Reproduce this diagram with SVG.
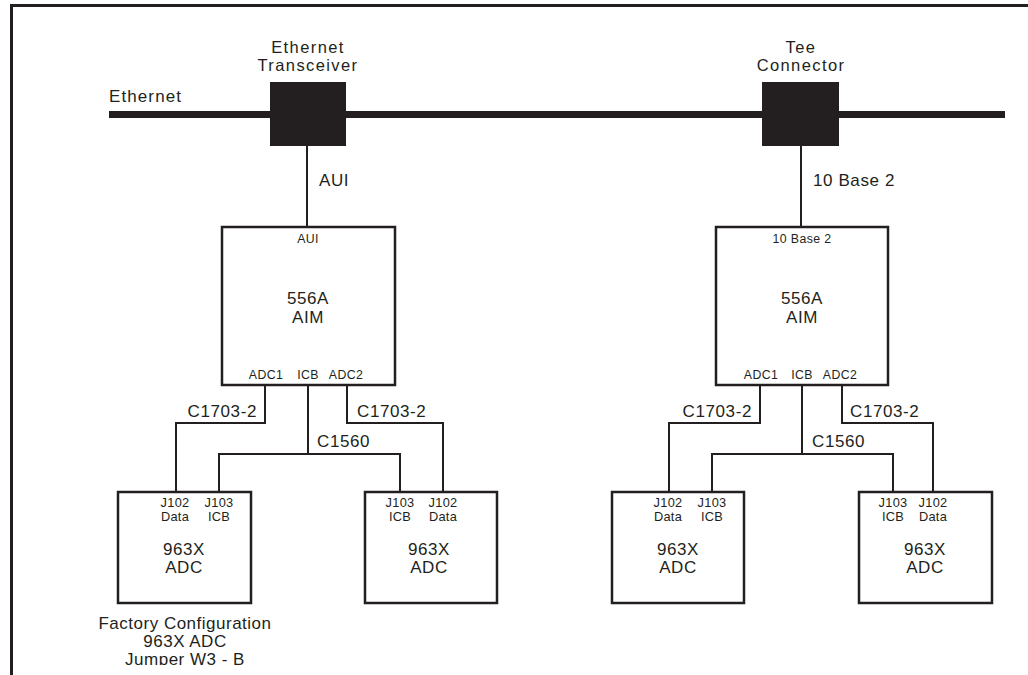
<svg xmlns="http://www.w3.org/2000/svg" width="1028" height="675" viewBox="0 0 1028 675">
<style>
  .t{font-family:"Liberation Sans",Arial,sans-serif;fill:#231f20;}
  .l{font-size:17px;letter-spacing:0.6px;}
  .m{font-size:16.5px;letter-spacing:1.4px;}
  .s{font-size:12.3px;letter-spacing:0.4px;}
  .j{font-size:12.8px;letter-spacing:0.3px;}
  .f{font-size:17px;letter-spacing:0.5px;}
  .box{fill:#fff;stroke:#231f20;stroke-width:2.5;}
  .w{fill:none;stroke:#231f20;stroke-width:2;}
</style>
<defs>
  <clipPath id="clipBottom"><rect x="0" y="0" width="1028" height="665"/></clipPath>
</defs>
<rect width="1028" height="675" fill="#fff"/>
<g id="frame"><path d="M11.5 675 V5.5 H1028" fill="none" stroke="#231f20" stroke-width="3"/></g>

<g id="connectors">
  <line x1="109" y1="114.5" x2="1005" y2="114.5" stroke="#231f20" stroke-width="7"/>
  <line class="w" x1="307" y1="146" x2="307" y2="227"/>
  <line class="w" x1="801" y1="146" x2="801" y2="227"/>
  <path class="w" d="M265 385 V423 H176 V492"/>
  <path class="w" d="M347 385 V423 H443 V492"/>
  <path class="w" d="M308 385 V454"/>
  <path class="w" d="M219 492 V454 H400 V492"/>
  <path class="w" d="M760 385 V423 H669 V492"/>
  <path class="w" d="M842 385 V423 H933 V492"/>
  <path class="w" d="M802 385 V454"/>
  <path class="w" d="M712 492 V454 H893 V492"/>
  <text class="t l" x="109" y="102" style="letter-spacing:1.1px">Ethernet</text>
  <text class="t l" x="319" y="186">AUI</text>
  <text class="t l" x="813" y="186">10 Base 2</text>
  <text class="t l" x="257" y="417" text-anchor="end">C1703-2</text>
  <text class="t l" x="357" y="417">C1703-2</text>
  <text class="t l" x="317" y="447">C1560</text>
  <text class="t l" x="752" y="417" text-anchor="end">C1703-2</text>
  <text class="t l" x="850" y="417">C1703-2</text>
  <text class="t l" x="812" y="447">C1560</text>
</g>

<g id="transceiver">
  <rect x="270" y="82" width="76" height="64" fill="#231f20"/>
  <text class="t m" x="308" y="53" text-anchor="middle">Ethernet</text>
  <text class="t m" x="308" y="71" text-anchor="middle">Transceiver</text>
</g>
<g id="tee">
  <rect x="762" y="82" width="77" height="64" fill="#231f20"/>
  <text class="t m" x="801" y="53" text-anchor="middle">Tee</text>
  <text class="t m" x="801" y="71" text-anchor="middle">Connector</text>
</g>

<g id="aim-left">
  <rect class="box" x="222" y="227" width="173" height="158"/>
  <text class="t s" x="308" y="243" text-anchor="middle">AUI</text>
  <text class="t l" x="308" y="304" text-anchor="middle">556A</text>
  <text class="t l" x="308" y="323" text-anchor="middle">AIM</text>
  <text class="t s" x="266" y="379" text-anchor="middle">ADC1</text>
  <text class="t s" x="308" y="379" text-anchor="middle">ICB</text>
  <text class="t s" x="346" y="379" text-anchor="middle">ADC2</text>
</g>
<g id="aim-right">
  <rect class="box" x="716" y="227" width="172" height="158"/>
  <text class="t s" x="802" y="243" text-anchor="middle">10 Base 2</text>
  <text class="t l" x="802" y="304" text-anchor="middle">556A</text>
  <text class="t l" x="802" y="323" text-anchor="middle">AIM</text>
  <text class="t s" x="761" y="379" text-anchor="middle">ADC1</text>
  <text class="t s" x="802" y="379" text-anchor="middle">ICB</text>
  <text class="t s" x="840" y="379" text-anchor="middle">ADC2</text>
</g>

<g id="adc-1">
  <rect class="box" x="118" y="492" width="133" height="111"/>
  <text class="t j" x="175" y="507" text-anchor="middle">J102</text>
  <text class="t j" x="175" y="521" text-anchor="middle">Data</text>
  <text class="t j" x="219" y="507" text-anchor="middle">J103</text>
  <text class="t j" x="219" y="521" text-anchor="middle">ICB</text>
  <text class="t l" x="184" y="555" text-anchor="middle">963X</text>
  <text class="t l" x="184" y="573" text-anchor="middle">ADC</text>
</g>
<g id="adc-2">
  <rect class="box" x="365" y="492" width="132" height="111"/>
  <text class="t j" x="400" y="507" text-anchor="middle">J103</text>
  <text class="t j" x="400" y="521" text-anchor="middle">ICB</text>
  <text class="t j" x="443" y="507" text-anchor="middle">J102</text>
  <text class="t j" x="443" y="521" text-anchor="middle">Data</text>
  <text class="t l" x="429" y="555" text-anchor="middle">963X</text>
  <text class="t l" x="429" y="573" text-anchor="middle">ADC</text>
</g>
<g id="adc-3">
  <rect class="box" x="612" y="492" width="132" height="111"/>
  <text class="t j" x="668" y="507" text-anchor="middle">J102</text>
  <text class="t j" x="668" y="521" text-anchor="middle">Data</text>
  <text class="t j" x="712" y="507" text-anchor="middle">J103</text>
  <text class="t j" x="712" y="521" text-anchor="middle">ICB</text>
  <text class="t l" x="678" y="555" text-anchor="middle">963X</text>
  <text class="t l" x="678" y="573" text-anchor="middle">ADC</text>
</g>
<g id="adc-4">
  <rect class="box" x="859" y="492" width="133" height="111"/>
  <text class="t j" x="893" y="507" text-anchor="middle">J103</text>
  <text class="t j" x="893" y="521" text-anchor="middle">ICB</text>
  <text class="t j" x="933" y="507" text-anchor="middle">J102</text>
  <text class="t j" x="933" y="521" text-anchor="middle">Data</text>
  <text class="t l" x="925" y="555" text-anchor="middle">963X</text>
  <text class="t l" x="925" y="573" text-anchor="middle">ADC</text>
</g>

<g id="note" clip-path="url(#clipBottom)">
  <text class="t f" x="185" y="629" text-anchor="middle">Factory Configuration</text>
  <text class="t f" x="185" y="647" text-anchor="middle">963X ADC</text>
  <text class="t f" x="185" y="665" text-anchor="middle">Jumper W3 - B</text>
</g>
</svg>
